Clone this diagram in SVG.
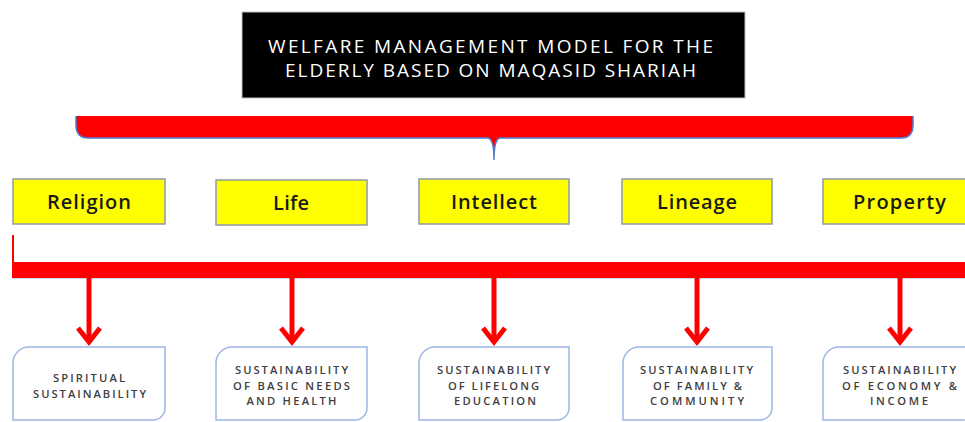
<svg xmlns="http://www.w3.org/2000/svg" width="965" height="422" viewBox="0 0 965 422">
<defs>
<style>
text{font-family:"Open Sans","Liberation Sans",sans-serif;text-anchor:middle;}
.title{font-size:19px;fill:#ffffff;}
.pillar rect{fill:#ffff00;stroke:#8e9aa8;stroke-width:1.5;}
.pillar text{font-size:20px;font-weight:600;fill:#1a1a1a;}
.out path{fill:#ffffff;stroke:#9db7e6;stroke-width:1.5;}
.out text{font-size:11.2px;font-weight:600;fill:#404040;}
.arrow{stroke:#ff0000;stroke-width:5;fill:none;}
</style>
<marker id="head" markerUnits="userSpaceOnUse" viewBox="-20 -16 24 32" refX="0" refY="0" markerWidth="24" markerHeight="32" orient="auto" overflow="visible">
<path d="M-14,-11 L0,0 L-14,11" fill="none" stroke="#ff0000" stroke-width="5"/>
</marker>
</defs>
<rect width="965" height="422" fill="#ffffff"/>
<g id="title">
<rect x="242" y="12" width="503" height="86" fill="#000000" stroke="#bfbfbf" stroke-width="1"/>
<text class="title" x="490.5" y="52.5" textLength="445" lengthAdjust="spacing">WELFARE MANAGEMENT MODEL FOR THE</text>
<text class="title" x="490.5" y="76.5" textLength="411" lengthAdjust="spacing">ELDERLY BASED ON MAQASID SHARIAH</text>
</g>
<g id="connectors">
<g id="brace">
<path d="M76,116 L913,116 L913,125 Q913,138 901,138 L500,138 Q494,139 494,160 Q494,139 488,138 L88,138 Q76,138 76,125 Z" fill="#ff0000"/>
<path d="M76,116 L76,125 Q76,138 88,138 L488,138 Q494,139 494,160 Q494,139 500,138 L901,138 Q913,138 913,125 L913,116" fill="none" stroke="#4f7bd0" stroke-width="1.5"/>
</g>
<g id="bar">
<line x1="13" y1="235" x2="13" y2="263" stroke="#ff0000" stroke-width="2"/>
<rect x="12" y="262" width="960" height="16" fill="#ff0000"/>
<line x1="12" y1="278.5" x2="965" y2="278.5" stroke="#c9d6f0" stroke-width="1"/>
</g>
<line class="arrow" x1="89" y1="278" x2="89" y2="342" marker-end="url(#head)"/>
<line class="arrow" x1="292" y1="278" x2="292" y2="342" marker-end="url(#head)"/>
<line class="arrow" x1="494" y1="278" x2="494" y2="342" marker-end="url(#head)"/>
<line class="arrow" x1="697" y1="278" x2="697" y2="342" marker-end="url(#head)"/>
<line class="arrow" x1="900" y1="278" x2="900" y2="342" marker-end="url(#head)"/>
</g>
<g id="religion" class="pillar"><rect x="13" y="179" width="152" height="45"/><text x="89" y="209" textLength="84" lengthAdjust="spacing">Religion</text></g>
<g id="life" class="pillar"><rect x="216" y="180" width="151" height="45"/><text x="291" y="210" textLength="36" lengthAdjust="spacing">Life</text></g>
<g id="intellect" class="pillar"><rect x="419" y="179" width="150" height="45"/><text x="494" y="209" textLength="86" lengthAdjust="spacing">Intellect</text></g>
<g id="lineage" class="pillar"><rect x="622" y="179" width="150" height="45"/><text x="697" y="209" textLength="80" lengthAdjust="spacing">Lineage</text></g>
<g id="property" class="pillar"><rect x="823" y="179" width="152" height="45"/><text x="899.5" y="209" textLength="93" lengthAdjust="spacing">Property</text></g>
<g id="spiritual" class="out">
<path d="M13,363 A16,16 0 0 1 29,347 L165,347 L165,408 A12,12 0 0 1 153,420 L13,420 Z"/>
<text x="89" y="382" textLength="72" lengthAdjust="spacing">SPIRITUAL</text><text x="89.5" y="397.5" textLength="113" lengthAdjust="spacing">SUSTAINABILITY</text>
</g>
<g id="basic-needs" class="out">
<path d="M216,363 A16,16 0 0 1 232,347 L367,347 L367,408 A12,12 0 0 1 355,420 L216,420 Z"/>
<text x="291.5" y="374" textLength="113" lengthAdjust="spacing">SUSTAINABILITY</text><text x="291.5" y="389.5" textLength="117" lengthAdjust="spacing">OF BASIC NEEDS</text><text x="291.5" y="405" textLength="90" lengthAdjust="spacing">AND HEALTH</text>
</g>
<g id="education" class="out">
<path d="M419,363 A16,16 0 0 1 435,347 L569,347 L569,408 A12,12 0 0 1 557,420 L419,420 Z"/>
<text x="493.5" y="374" textLength="113" lengthAdjust="spacing">SUSTAINABILITY</text><text x="493.5" y="389.5" textLength="91" lengthAdjust="spacing">OF LIFELONG</text><text x="495" y="405" textLength="82" lengthAdjust="spacing">EDUCATION</text>
</g>
<g id="family" class="out">
<path d="M623,363 A16,16 0 0 1 639,347 L772,347 L772,408 A12,12 0 0 1 760,420 L623,420 Z"/>
<text x="696.5" y="374" textLength="113" lengthAdjust="spacing">SUSTAINABILITY</text><text x="697.5" y="389.5" textLength="89" lengthAdjust="spacing">OF FAMILY &amp;</text><text x="697" y="405" textLength="94" lengthAdjust="spacing">COMMUNITY</text>
</g>
<g id="economy" class="out">
<path d="M823,363 A16,16 0 0 1 839,347 L975,347 L975,408 A12,12 0 0 1 963,420 L823,420 Z"/>
<text x="899.5" y="374" textLength="113" lengthAdjust="spacing">SUSTAINABILITY</text><text x="899.5" y="389.5" textLength="115" lengthAdjust="spacing">OF ECONOMY &amp;</text><text x="899" y="405" textLength="58" lengthAdjust="spacing">INCOME</text>
</g>
</svg>
